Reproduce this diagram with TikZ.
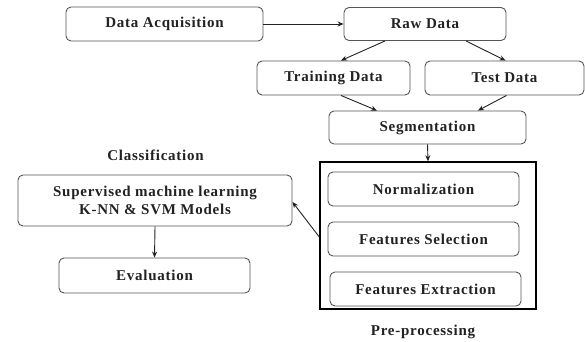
\documentclass[tikz,border=0pt]{standalone}
\usepackage{fontspec}
\setmainfont[LetterSpace=5]{Liberation Serif}
\usetikzlibrary{arrows.meta}
\definecolor{boxline}{HTML}{555555}
\definecolor{ink}{HTML}{222222}
\begin{document}
\begin{tikzpicture}[x=1pt,y=-1pt,
  every node/.style={font=\fontsize{15}{18}\selectfont\bfseries, text=ink},
  stagebox/.style={draw=boxline, line width=0.9pt, rounded corners=5pt, align=center, inner sep=0pt},
  frame/.style={draw=black, line width=1.4pt, inner sep=0pt},
  flow/.style={draw=ink, line width=0.9pt, -{Stealth[length=6pt,width=5pt]}},
  caption/.style={inner sep=0pt}]
\useasboundingbox (0,0) rectangle (585,341);

% top row
\node[stagebox, minimum width=197pt, minimum height=34pt] (acq) at (164.5,24) {Data Acquisition};
\node[stagebox, minimum width=162pt, minimum height=33pt] (raw) at (425,24) {Raw Data};

% data split
\node[stagebox, minimum width=153pt, minimum height=34pt] (train) at (333.5,78) {Training Data};
\node[stagebox, minimum width=159pt, minimum height=34pt] (test) at (504.5,78) {Test Data};

% segmentation
\node[stagebox, minimum width=197pt, minimum height=33pt] (seg) at (427.5,127.5) {Segmentation};

% pre-processing group
\node[frame, minimum width=216pt, minimum height=147pt] (pre) at (428,235.5) {};
\node[stagebox, minimum width=191pt, minimum height=34pt] (norm) at (423.5,189) {Normalization};
\node[stagebox, minimum width=191pt, minimum height=34pt] (fsel) at (423.5,239) {Features Selection};
\node[stagebox, minimum width=191pt, minimum height=34pt] (fext) at (425.5,289) {Features Extraction};
\node[caption] (prelabel) at (423,332) {Pre-processing};

% classification side
\node[caption] (clslabel) at (155.5,155) {Classification};
\node[stagebox, minimum width=274pt, minimum height=51pt] (sup) at (155,200.5) {Supervised machine learning\\K-NN \& SVM Models};
\node[stagebox, minimum width=191pt, minimum height=35pt] (eval) at (154.5,275.5) {Evaluation};

% connectors
\draw[flow] (acq.east) -- (raw.west);
\draw[flow] ([xshift=-40pt]raw.south) -- ([xshift=7.5pt]train.north);
\draw[flow] ([xshift=41pt]raw.south) -- ([xshift=1pt]test.north);
\draw[flow] ([xshift=7.5pt]train.south) -- ([xshift=-50.5pt]seg.north);
\draw[flow] ([xshift=2pt]test.south) -- ([xshift=50.5pt]seg.north);
\draw[flow] (seg.south) -- (pre.north);
\draw[flow] ([yshift=-1.5pt]pre.west) -- ([yshift=-1.5pt]sup.east);
\draw[flow] (sup.south) -- (eval.north);
\end{tikzpicture}
\end{document}
